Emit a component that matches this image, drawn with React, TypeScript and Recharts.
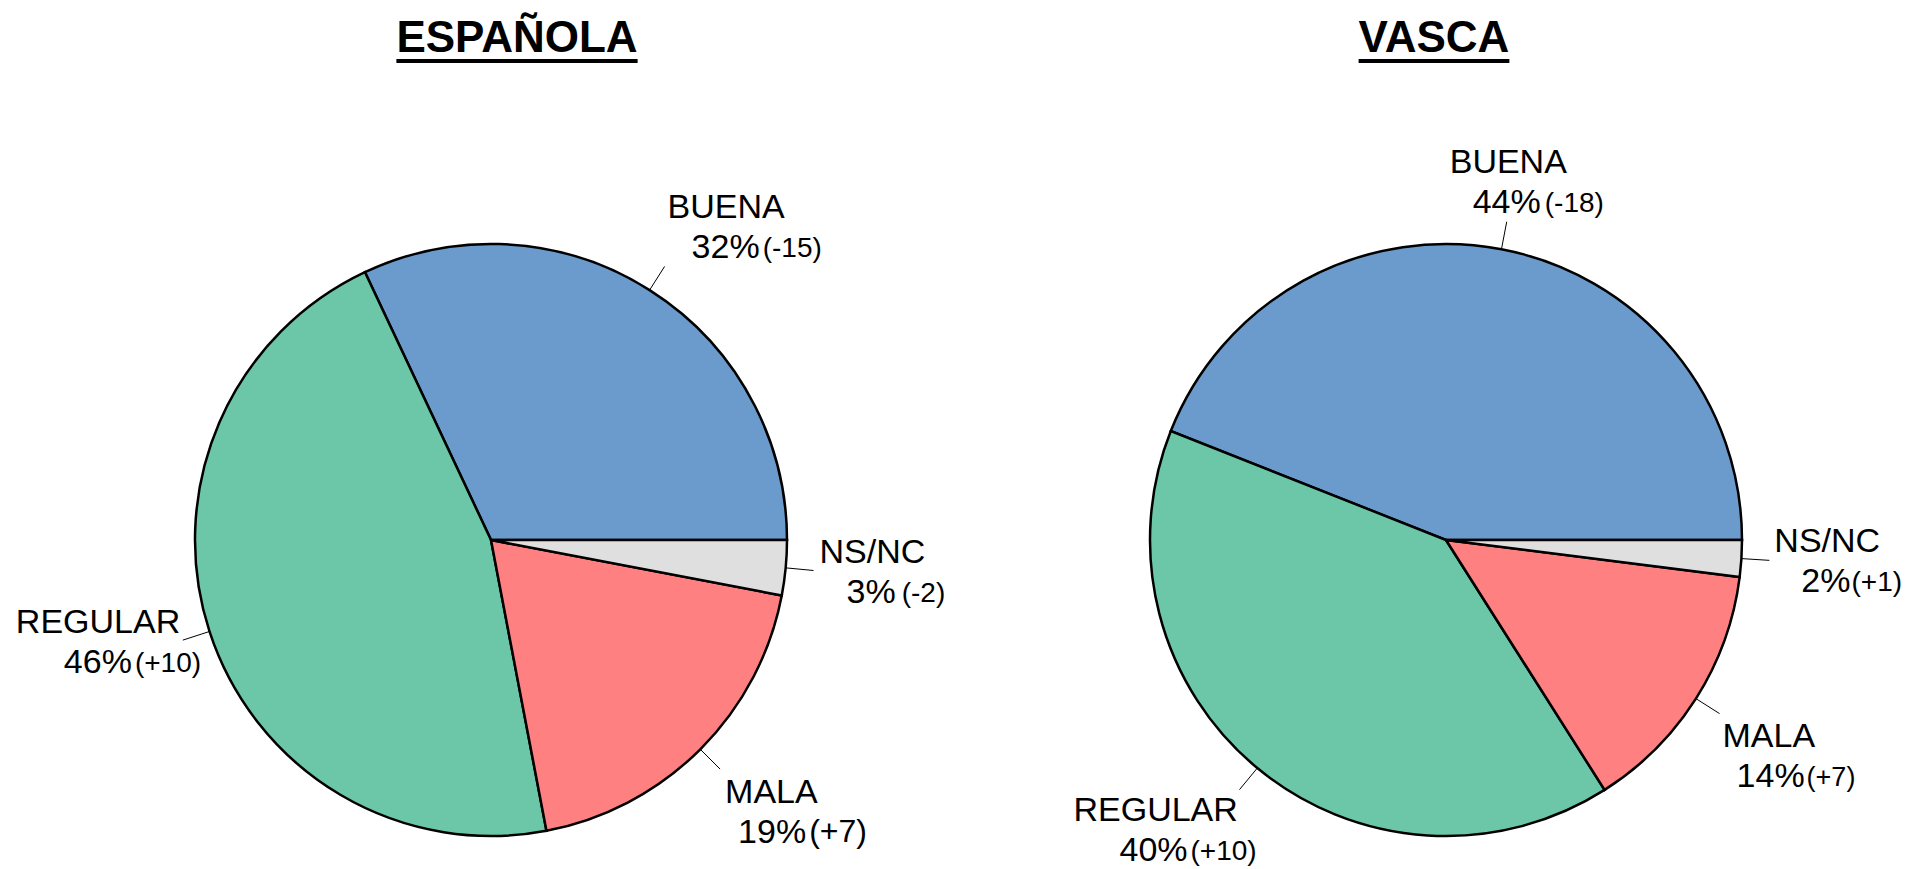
import { Pie, PieChart, Cell } from "recharts";

const categories = ["BUENA", "REGULAR", "MALA", "NS/NC"];
const espanolaValues = [32, 46, 19, 3];
const espanolaChanges = ["(-15)", "(+10)", "(+7)", "(-2)"];
const vascaValues = [44, 40, 14, 2];
const vascaChanges = ["(-18)", "(+10)", "(+7)", "(+1)"];

const COLORS = ["#6a9bcc", "#6cc6a8", "#ff8080", "#dfdfdf"];
const FONT = "'Liberation Sans', Arial, Helvetica, sans-serif";
const WIDTH = 1908;
const HEIGHT = 869;
const RADIUS = 296;
const LEADER = 28;

// label text offsets from the end of the leader line:
// [dx line 1, dy line 1, dx line 2, gap before change, change font size]
type Layout = [number, number, number, number, number];
const espanolaLayout: Layout[] = [
  [3, -48, 27, 3, 28],
  [-167, -7, -119, 3, 28],
  [5, 34, 18, 3, 32],
  [6, -7, 33, 6, 28],
];
const vascaLayout: Layout[] = [
  [-57, -49, -34, 4, 28],
  [-166, 31, -120, 3, 28],
  [3, 33, 17, 2, 27],
  [5, -8, 32, 1, 28],
];

const RAD = Math.PI / 180;

function makeLabel(changes: string[], layout: Layout[]) {
  return (props: any) => {
    const { cx, cy, midAngle, outerRadius, index, value } = props;
    const cos = Math.cos(-midAngle * RAD);
    const sin = Math.sin(-midAngle * RAD);
    const sx = cx + outerRadius * cos;
    const sy = cy + outerRadius * sin;
    const ex = cx + (outerRadius + LEADER) * cos;
    const ey = cy + (outerRadius + LEADER) * sin;
    const [dx1, dy1, dx2, gap, changeSize] = layout[index];
    return (
      <g key={`label-${index}`}>
        <line x1={sx} y1={sy} x2={ex} y2={ey} stroke="#000" strokeWidth={1} />
        <text
          x={ex + dx1}
          y={ey + dy1}
          fill="#000"
          fontFamily={FONT}
          fontSize={34}
          textAnchor="start"
        >
          {categories[index]}
        </text>
        <text
          x={ex + dx2}
          y={ey + dy1 + 40}
          fill="#000"
          fontFamily={FONT}
          fontSize={34}
          textAnchor="start"
        >
          {value}%
          <tspan dx={gap} dy={-1} fontSize={changeSize}>
            {changes[index]}
          </tspan>
        </text>
      </g>
    );
  };
}

const espanolaData = categories.map((name, i) => ({ name, value: espanolaValues[i] }));
const vascaData = categories.map((name, i) => ({ name, value: vascaValues[i] }));

const titleStyle = (center: number): React.CSSProperties => ({
  position: "absolute",
  left: center,
  top: 15,
  transform: "translateX(-50%)",
  fontFamily: FONT,
  fontWeight: "bold",
  fontSize: 44,
  lineHeight: "44px",
  whiteSpace: "nowrap",
  textDecoration: "underline",
  textDecorationThickness: "4px",
  textUnderlineOffset: "7px",
  color: "#000",
});

export default function App() {
  return (
    <div
      style={{
        position: "fixed",
        left: 0,
        top: 0,
        width: WIDTH,
        height: HEIGHT,
        background: "#fff",
        overflow: "hidden",
      }}
    >
      <PieChart width={WIDTH} height={HEIGHT} margin={{ top: 0, right: 0, bottom: 0, left: 0 }}>
        <Pie
          data={espanolaData}
          dataKey="value"
          nameKey="name"
          cx={491}
          cy={540}
          outerRadius={RADIUS}
          startAngle={0}
          endAngle={360}
          stroke="#000"
          strokeWidth={2.5}
          label={makeLabel(espanolaChanges, espanolaLayout)}
          labelLine={false}
          isAnimationActive={false}
        >
          {espanolaData.map((d, i) => (
            <Cell key={d.name} fill={COLORS[i]} />
          ))}
        </Pie>
        <Pie
          data={vascaData}
          dataKey="value"
          nameKey="name"
          cx={1446}
          cy={540}
          outerRadius={RADIUS}
          startAngle={0}
          endAngle={360}
          stroke="#000"
          strokeWidth={2.5}
          label={makeLabel(vascaChanges, vascaLayout)}
          labelLine={false}
          isAnimationActive={false}
        >
          {vascaData.map((d, i) => (
            <Cell key={d.name} fill={COLORS[i]} />
          ))}
        </Pie>
      </PieChart>
      <div style={titleStyle(517)}>ESPAÑOLA</div>
      <div style={titleStyle(1434)}>VASCA</div>
    </div>
  );
}
